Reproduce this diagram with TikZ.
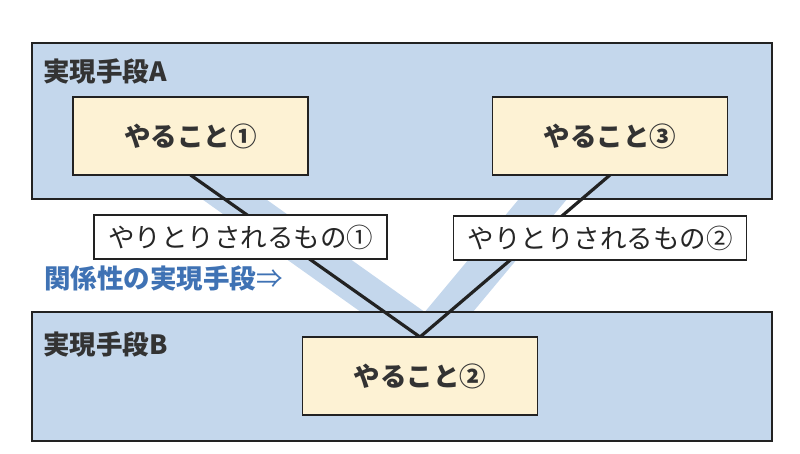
\documentclass[tikz,border=0pt]{standalone}
\usepackage{fontspec}
\newfontfamily\jp{Noto Sans CJK JP}
\definecolor{boxblue}{RGB}{196,215,236}
\definecolor{bandblue}{RGB}{196,215,236}
\definecolor{doyellow}{RGB}{253,242,212}
\definecolor{ink}{RGB}{34,34,34}
\definecolor{txt}{RGB}{51,51,51}
\definecolor{relblue}{RGB}{63,114,180}
\tikzset{
  bigbox/.style={draw=ink, line width=1.8pt, fill=boxblue, anchor=north west, inner sep=0pt},
  dobox/.style={draw=ink, line width=1.8pt, fill=doyellow, inner sep=0pt, minimum width=235pt, minimum height=78pt, font=\jp\bfseries\fontsize{26.5}{30}\selectfont, text=txt},
  labbox/.style={draw=ink, line width=1.3pt, fill=white, inner sep=0pt, minimum width=293pt, minimum height=44pt, font=\jp\fontsize{26.5}{30}\selectfont, text=black!85},
  grouplabel/.style={anchor=west, inner sep=0pt, font=\jp\bfseries\fontsize{26.5}{30}\selectfont, text=txt},
  rellabel/.style={anchor=west, inner sep=0pt, font=\jp\bfseries\fontsize{26.5}{30}\selectfont, text=relblue},
  band/.style={line width=37pt, draw=bandblue},
  link/.style={line width=3.2pt, draw=ink}
}
\begin{document}
\begin{tikzpicture}[x=1pt,y=-1pt]
\useasboundingbox (0,0) rectangle (800,454);
% bands
\coordinate (bandL) at (200,175);
\coordinate (bandR) at (563,175);
\coordinate (bandtip) at (428,337);
\draw[band] (bandL) -- (bandtip);
\draw[band] (bandR) -- (bandtip);
% group boxes
\node[bigbox, minimum width=740pt, minimum height=156pt] (grpA) at (31,42) {};
\node[bigbox, minimum width=740pt, minimum height=129pt] (grpB) at (31,311) {};
\node[grouplabel] (labA) at (43,71) {実現手段A};
\node[grouplabel] (labB) at (43,344) {実現手段B};
% links
\coordinate (d1s) at (190.5,175);
\coordinate (d3s) at (610,175);
\coordinate (d2n) at (420,337);
\draw[link] (d1s) -- (d2n);
\draw[link] (d3s) -- (d2n);
% task boxes
\node[dobox] (do1) at (190.5,136) {やること①};
\node[dobox] (do3) at (610,136) {やること③};
\node[dobox] (do2) at (420,376) {やること②};
% exchanged items
\node[labbox] (ex1) at (240.5,237) {やりとりされるもの①};
\node[labbox] (ex2) at (600,238) {やりとりされるもの②};
\node[rellabel] (rel) at (44,278) {関係性の実現手段{\mdseries ⇒}};
\end{tikzpicture}
\end{document}
